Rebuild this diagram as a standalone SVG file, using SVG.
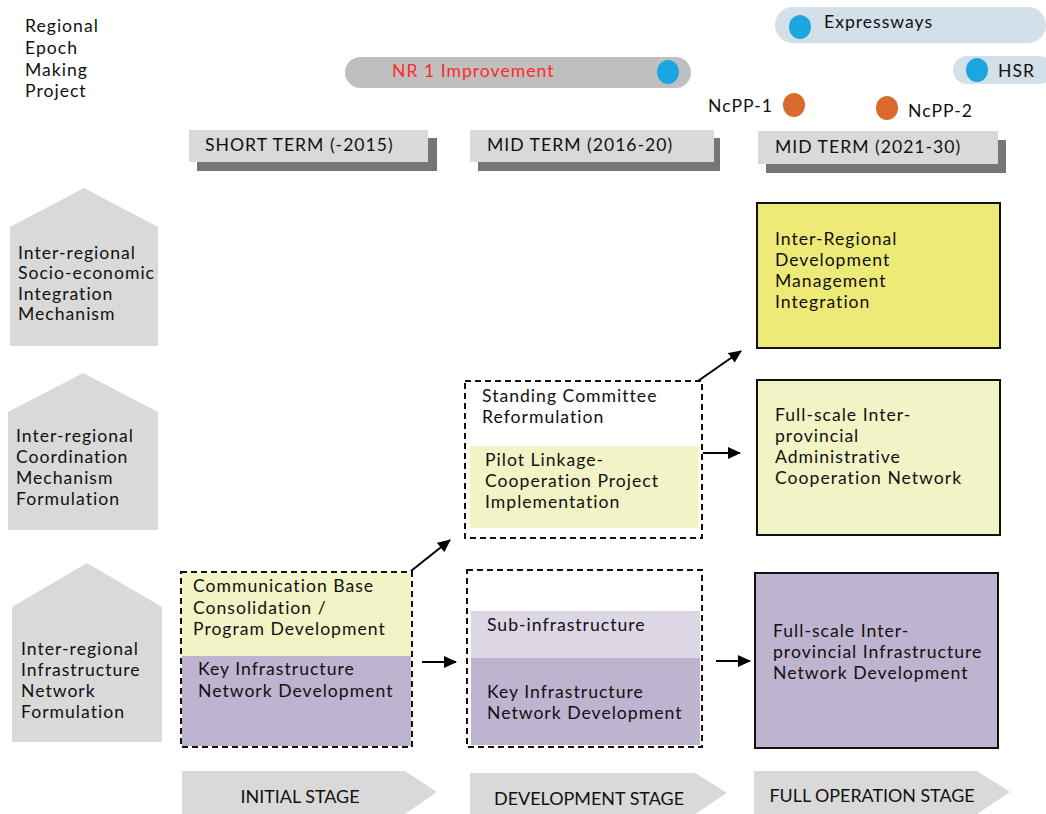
<svg xmlns="http://www.w3.org/2000/svg" width="1046" height="814" viewBox="0 0 1046 814">
<defs>
<style>
text{font-family:Lato,"Open Sans","Liberation Sans",sans-serif;font-size:17.6px;letter-spacing:1px;fill:#111}
.stage{font-size:17px;letter-spacing:0;text-anchor:middle}
.gray{fill:#d9d9d9}
.shadow{fill:#767676}
.dash{fill:none;stroke:#111;stroke-width:2;stroke-dasharray:6,4}
.solid{stroke:#111;stroke-width:2}
.ly{fill:#f2f4c6}
.yl{fill:#eeea78}
.pu{fill:#bfb4cf}
.lp{fill:#dcd6e5}
.blue{fill:#1ca6e0}
.orange{fill:#d96a2c}
.conn{stroke:#000;stroke-width:2;fill:none;marker-end:url(#ah)}
</style>
<marker id="ah" markerWidth="13" markerHeight="12" refX="12" refY="6" orient="auto" markerUnits="userSpaceOnUse" viewBox="0 0 13 12">
<path d="M0,0 L13,6 L0,12 z" fill="#000"/>
</marker>
</defs>
<rect width="1046" height="814" fill="#fff"/>

<g id="epoch-label">
<text x="25" y="32">Regional</text>
<text x="25" y="54">Epoch</text>
<text x="25" y="76">Making</text>
<text x="25" y="97">Project</text>
</g>

<g id="nr1">
<rect x="345" y="57" width="346" height="31" rx="15.5" fill="#bfbfbf"/>
<text x="392" y="77" style="fill:#ff2a2a">NR 1 Improvement</text>
<ellipse cx="668" cy="72" rx="11" ry="12" class="blue"/>
</g>
<g id="expressways">
<rect x="775" y="7" width="271" height="36" rx="18" fill="#d3dfe9"/>
<ellipse cx="800" cy="27" rx="11" ry="12" class="blue"/>
<text x="824" y="28">Expressways</text>
</g>
<g id="hsr">
<rect x="953" y="56" width="100" height="28" rx="14" fill="#d3dfe9"/>
<ellipse cx="977" cy="70" rx="11" ry="12" class="blue"/>
<text x="998" y="77">HSR</text>
</g>
<g id="ncpp1">
<text x="708" y="112">NcPP-1</text>
<ellipse cx="794" cy="105" rx="11" ry="12" class="orange"/>
</g>
<g id="ncpp2">
<ellipse cx="887" cy="108" rx="11" ry="12" class="orange"/>
<text x="908" y="117">NcPP-2</text>
</g>

<g id="term-short">
<rect x="197" y="138" width="240" height="33" class="shadow"/>
<rect x="189" y="130" width="239" height="32" class="gray"/>
<text x="205" y="151">SHORT TERM (-2015)</text>
</g>
<g id="term-mid1">
<rect x="478" y="138" width="242" height="33" class="shadow"/>
<rect x="470" y="130" width="244" height="32" class="gray"/>
<text x="487" y="151">MID TERM (2016-20)</text>
</g>
<g id="term-mid2">
<rect x="766" y="140" width="240" height="33" class="shadow"/>
<rect x="758" y="131" width="240" height="33" class="gray"/>
<text x="775" y="153">MID TERM (2021-30)</text>
</g>

<g id="row-socio">
<path d="M10,227 L84,188 L158,227 L158,346 L10,346 Z" class="gray"/>
<text x="18" y="259">Inter-regional</text>
<text x="18" y="279">Socio-economic</text>
<text x="18" y="300">Integration</text>
<text x="18" y="320">Mechanism</text>
</g>
<g id="row-coord">
<path d="M8,412 L83,373 L158,412 L158,530 L8,530 Z" class="gray"/>
<text x="16" y="442">Inter-regional</text>
<text x="16" y="463">Coordination</text>
<text x="16" y="484">Mechanism</text>
<text x="16" y="505">Formulation</text>
</g>
<g id="row-infra">
<path d="M12,607 L87,563 L162,607 L162,742 L12,742 Z" class="gray"/>
<text x="21" y="655">Inter-regional</text>
<text x="21" y="676">Infrastructure</text>
<text x="21" y="697">Network</text>
<text x="21" y="718">Formulation</text>
</g>

<g id="initial-box">
<rect x="182" y="573" width="229" height="83" class="ly"/>
<rect x="182" y="656" width="229" height="90" class="pu"/>
<rect x="181" y="572" width="231" height="175" class="dash"/>
<text x="193" y="592">Communication Base</text>
<text x="193" y="614">Consolidation /</text>
<text x="193" y="635">Program Development</text>
<text x="198" y="675">Key Infrastructure</text>
<text x="198" y="697">Network Development</text>
</g>

<g id="dev-coord-box">
<rect x="470" y="446" width="228" height="82" class="ly"/>
<rect x="465" y="381" width="237" height="157" class="dash"/>
<text x="482" y="402">Standing Committee</text>
<text x="482" y="423">Reformulation</text>
<text x="485" y="466">Pilot Linkage-</text>
<text x="485" y="487">Cooperation Project</text>
<text x="485" y="508">Implementation</text>
</g>

<g id="dev-infra-box">
<rect x="471" y="611" width="229" height="47" class="lp"/>
<rect x="471" y="658" width="229" height="87" class="pu"/>
<rect x="467" y="570" width="235" height="177" class="dash"/>
<text x="487" y="631">Sub-infrastructure</text>
<text x="487" y="698">Key Infrastructure</text>
<text x="487" y="719">Network Development</text>
</g>

<g id="full-socio">
<rect x="757" y="203" width="243" height="145" class="yl solid"/>
<text x="775" y="245">Inter-Regional</text>
<text x="775" y="266">Development</text>
<text x="775" y="287">Management</text>
<text x="775" y="308">Integration</text>
</g>
<g id="full-coord">
<rect x="757" y="380" width="243" height="155" class="ly solid"/>
<text x="775" y="421">Full-scale Inter-</text>
<text x="775" y="442">provincial</text>
<text x="775" y="463">Administrative</text>
<text x="775" y="484">Cooperation Network</text>
</g>
<g id="full-infra">
<rect x="755" y="573" width="243" height="175" class="pu solid"/>
<text x="773" y="637">Full-scale Inter-</text>
<text x="773" y="658">provincial Infrastructure</text>
<text x="773" y="679">Network Development</text>
</g>

<g id="stage-initial">
<path d="M182,771 L405,771 L437,792 L405,814 L182,814 Z" class="gray"/>
<text x="300" y="803" class="stage" textLength="119" lengthAdjust="spacingAndGlyphs">INITIAL STAGE</text>
</g>
<g id="stage-development">
<path d="M470,773 L695,773 L727,793 L695,814 L470,814 Z" class="gray"/>
<text x="589" y="805" class="stage" textLength="190" lengthAdjust="spacingAndGlyphs">DEVELOPMENT STAGE</text>
</g>
<g id="stage-full">
<path d="M754,771 L977,771 L1010,792 L977,814 L754,814 Z" class="gray"/>
<text x="872" y="802" class="stage" textLength="205" lengthAdjust="spacingAndGlyphs">FULL OPERATION STAGE</text>
</g>

<g id="connectors">
<path d="M411,571 L450,540" class="conn"/>
<path d="M422,662 L456,662" class="conn"/>
<path d="M698,381 L741,351" class="conn"/>
<path d="M703,453 L740,453" class="conn"/>
<path d="M716,661 L750,661" class="conn"/>
</g>
</svg>
